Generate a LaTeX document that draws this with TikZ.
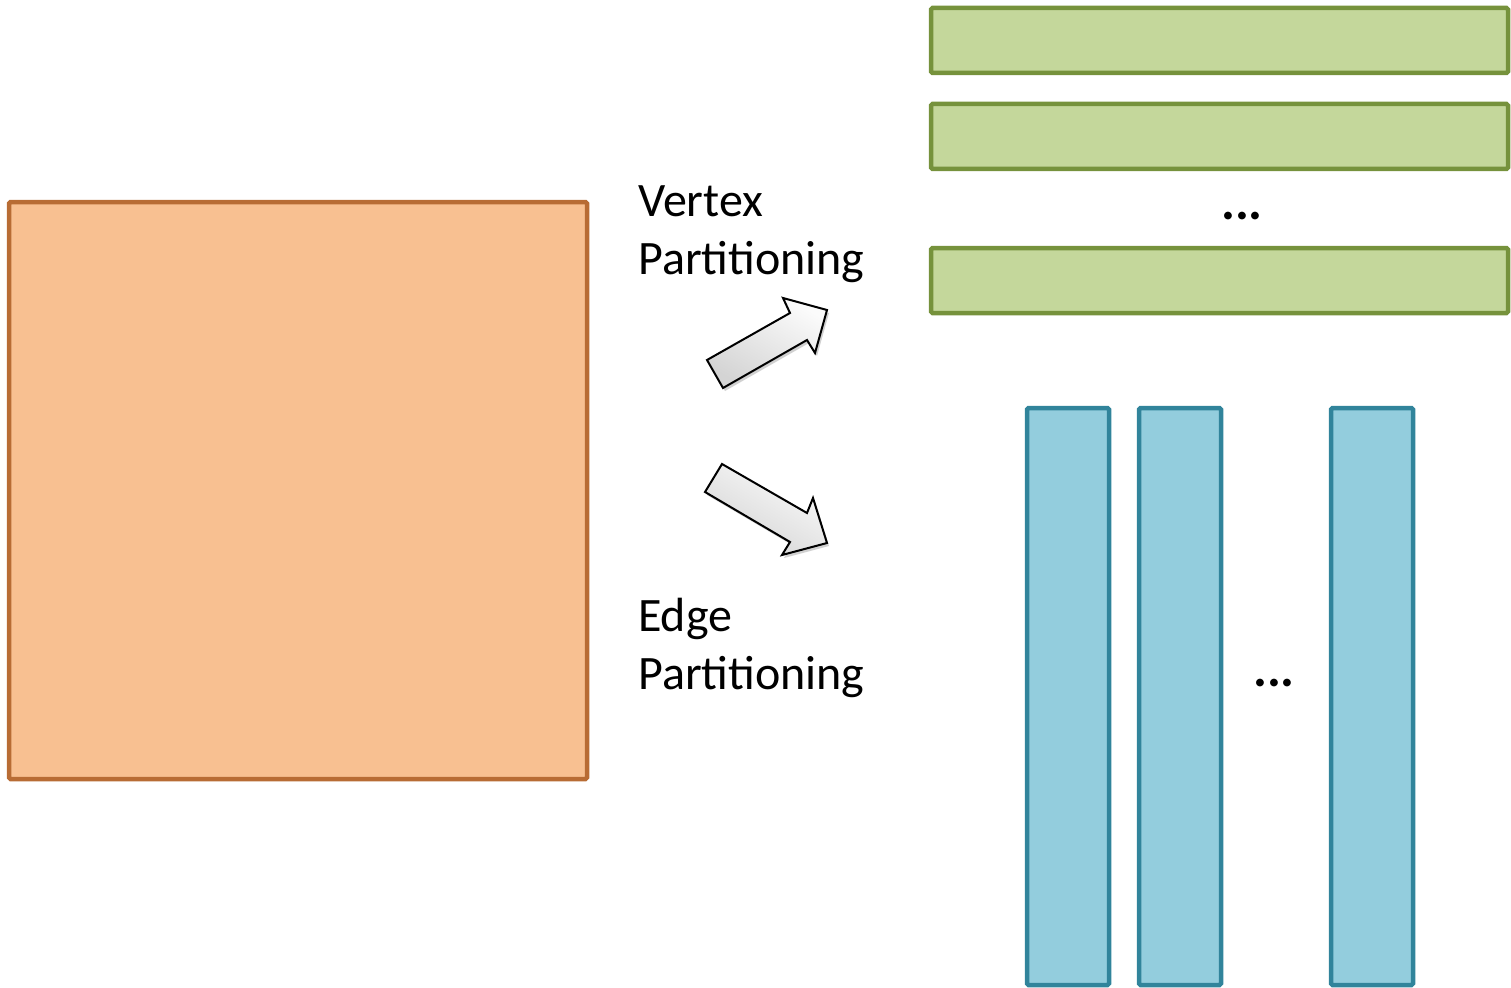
\documentclass[tikz,border=0pt]{standalone}
\usepackage{fontspec}
\setmainfont{Carlito}
\usetikzlibrary{shadows}
\definecolor{orfill}{HTML}{F8C091}
\definecolor{ordraw}{HTML}{B86C34}
\definecolor{grfill}{HTML}{C4D79B}
\definecolor{grdraw}{HTML}{76923C}
\definecolor{blfill}{HTML}{93CDDD}
\definecolor{bldraw}{HTML}{31849B}
\tikzset{
  box/.style={line width=4.5pt, rounded corners=1.5pt},
  orbox/.style={box, fill=orfill, draw=ordraw},
  grbox/.style={box, fill=grfill, draw=grdraw},
  blbox/.style={box, fill=blfill, draw=bldraw},
  label/.style={anchor=base west, inner sep=0pt, font=\fontsize{48}{58}\selectfont},
  dots/.style={anchor=base, inner sep=0pt, font=\fontsize{52}{60}\selectfont\bfseries},
  blockarrow/.style={draw=black, line width=2pt, line join=miter,
    top color=white!97!gray, bottom color=black!17, shading angle=-30,
    drop shadow={shadow xshift=2pt, shadow yshift=-3pt, opacity=0.3, fill=black!60}}
}
\begin{document}
\begin{tikzpicture}[x=1pt,y=-1pt]
\useasboundingbox (0,0) rectangle (1511,987);
% big square
\draw[orbox] (9,202) rectangle (587,779);
% green rows
\draw[grbox] (931,8) rectangle (1508,73);
\draw[grbox] (931,104) rectangle (1508,169);
\draw[grbox] (931,248) rectangle (1508,313);
\node[dots] (gdots) at (1242,219) {...};
% blue columns
\draw[blbox] (1027,408) rectangle (1109,985);
\draw[blbox] (1139,408) rectangle (1221,985);
\draw[blbox] (1331,408) rectangle (1413,985);
\node[dots] (bdots) at (1274,686) {...};
% labels
\node[label] (v1) at (638,216) {Vertex};
\node[label] (v2) at (638,274) {Partitioning};
\node[label] (e1) at (638,631) {Edge};
\node[label] (e2) at (638,689) {Partitioning};
% block arrows
\path[blockarrow] (707,360) -- (790,313) -- (783,298) -- (827,310) -- (815,353) -- (807,340) -- (723,388) -- cycle;
\path[blockarrow] (722,464) -- (807,513) -- (813,498) -- (827,543) -- (782,555) -- (790,542) -- (705,492) -- cycle;
\end{tikzpicture}
\end{document}
